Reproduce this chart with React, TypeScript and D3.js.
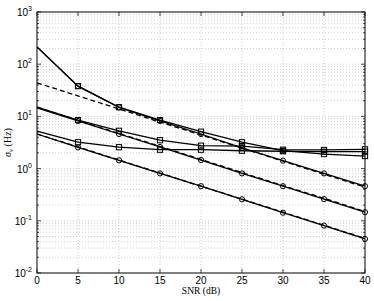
import React, { useEffect, useRef } from "react"
import * as d3 from "d3"

// SNR points (dB)
const snr = [0, 5, 10, 15, 20, 25, 30, 35, 40]

// sigma_nu (Hz)
const circleHigh = [215, 38, 14.9, 8.2, 4.6, 2.5, 1.42, 0.81, 0.46]
const squareHigh = [215, 38, 15, 8.5, 5.1, 3.2, 2.2, 1.9, 1.74]
const crbHigh = [44, 24.7, 13.9, 7.8, 4.4, 2.47, 1.39, 0.78, 0.44]

const circleMid = [14.6, 8.2, 4.6, 2.6, 1.46, 0.81, 0.46, 0.26, 0.146]
const squareMid = [15, 8.5, 5.3, 3.5, 2.75, 2.7, 2.3, 2.28, 2.34]
const crbMid = [15, 8.4, 4.7, 2.67, 1.5, 0.84, 0.47, 0.27, 0.15]

const circleLow = [4.6, 2.55, 1.44, 0.81, 0.46, 0.258, 0.143, 0.081, 0.045]
const squareLow = [5.2, 3.2, 2.57, 2.3, 2.3, 2.2, 2.15, 2.11, 2.11]
const crbLow = [4.6, 2.6, 1.46, 0.82, 0.46, 0.26, 0.146, 0.082, 0.046]

const xTicks = [0, 5, 10, 15, 20, 25, 30, 35, 40]
const yExponents = [-2, -1, 0, 1, 2, 3]

const App = () => {
  const chart = useRef<SVGSVGElement>(null)

  useEffect(() => {
    const svg = d3.select(chart.current)
    svg.selectAll("*").remove()

    const margin = { top: 12, right: 9, bottom: 28, left: 37 }
    const svgWidth = 374
    const svgHeight = 301
    const width = svgWidth - margin.left - margin.right
    const height = svgHeight - margin.top - margin.bottom

    const x = d3.scaleLinear().domain([0, 40]).range([0, width])
    const y = d3.scaleLog().domain([1e-2, 1e3]).range([height, 0])

    const g = svg.append("g").attr("transform", `translate(${margin.left},${margin.top})`)

    // minor log values
    const minor: number[] = []
    yExponents.slice(0, -1).forEach((e) => {
      for (let k = 2; k <= 9; k++) minor.push(k * Math.pow(10, e))
    })
    const major = yExponents.map((e) => Math.pow(10, e))

    const grid = g.append("g").attr("stroke", "#b0b0b0").attr("stroke-width", 0.6).attr("stroke-dasharray", "1,2")
    grid
      .selectAll(".gx")
      .data(xTicks.slice(1, -1))
      .enter()
      .append("line")
      .attr("x1", (d) => x(d))
      .attr("x2", (d) => x(d))
      .attr("y1", 0)
      .attr("y2", height)
    grid
      .selectAll(".gy")
      .data(minor.concat(major.slice(1, -1)))
      .enter()
      .append("line")
      .attr("x1", 0)
      .attr("x2", width)
      .attr("y1", (d) => y(d))
      .attr("y2", (d) => y(d))

    // inward ticks on all sides
    const ticks = g.append("g").attr("stroke", "#000").attr("stroke-width", 0.7)
    xTicks.forEach((t) => {
      ticks.append("line").attr("x1", x(t)).attr("x2", x(t)).attr("y1", height).attr("y2", height - 4)
      ticks.append("line").attr("x1", x(t)).attr("x2", x(t)).attr("y1", 0).attr("y2", 4)
    })
    major.forEach((t) => {
      ticks.append("line").attr("x1", 0).attr("x2", 4).attr("y1", y(t)).attr("y2", y(t))
      ticks.append("line").attr("x1", width).attr("x2", width - 4).attr("y1", y(t)).attr("y2", y(t))
    })
    minor.forEach((t) => {
      ticks.append("line").attr("x1", 0).attr("x2", 2).attr("y1", y(t)).attr("y2", y(t))
      ticks.append("line").attr("x1", width).attr("x2", width - 2).attr("y1", y(t)).attr("y2", y(t))
    })

    const line = d3
      .line<number>()
      .x((d, i) => x(snr[i]))
      .y((d) => y(d))

    const series = [
      { data: crbHigh, dash: "5,3", marker: "none" },
      { data: crbMid, dash: "5,3", marker: "none" },
      { data: crbLow, dash: "5,3", marker: "none" },
      { data: squareHigh, dash: null, marker: "square" },
      { data: squareMid, dash: null, marker: "square" },
      { data: squareLow, dash: null, marker: "square" },
      { data: circleHigh, dash: null, marker: "circle" },
      { data: circleMid, dash: null, marker: "circle" },
      { data: circleLow, dash: null, marker: "circle" },
    ]

    series.forEach((s) => {
      g.append("path")
        .datum(s.data)
        .attr("fill", "none")
        .attr("stroke", "#000")
        .attr("stroke-width", 1.3)
        .attr("stroke-dasharray", s.dash)
        .attr("d", line)

      const pts = s.data.map((v, i) => ({ sx: snr[i], v })).filter((p) => p.sx > 0)
      if (s.marker === "circle") {
        g.selectAll(null)
          .data(pts)
          .enter()
          .append("circle")
          .attr("cx", (d) => x(d.sx))
          .attr("cy", (d) => y(d.v))
          .attr("r", 2.6)
          .attr("fill", "none")
          .attr("stroke", "#000")
          .attr("stroke-width", 1)
      } else if (s.marker === "square") {
        g.selectAll(null)
          .data(pts)
          .enter()
          .append("rect")
          .attr("x", (d) => x(d.sx) - 2.6)
          .attr("y", (d) => y(d.v) - 2.6)
          .attr("width", 5.2)
          .attr("height", 5.2)
          .attr("fill", "none")
          .attr("stroke", "#000")
          .attr("stroke-width", 1)
      }
    })

    // frame
    g.append("rect")
      .attr("width", width)
      .attr("height", height)
      .attr("fill", "none")
      .attr("stroke", "#000")
      .attr("stroke-width", 1)

    // tick labels
    const font = "Liberation Sans, Arial, sans-serif"
    g.selectAll(".xl")
      .data(xTicks)
      .enter()
      .append("text")
      .attr("x", (d) => x(d))
      .attr("y", height + 11)
      .attr("text-anchor", "middle")
      .attr("font-family", font)
      .attr("font-size", 10)
      .text((d) => d)

    const yl = g
      .selectAll(".yl")
      .data(yExponents)
      .enter()
      .append("text")
      .attr("x", -5)
      .attr("y", (d) => y(Math.pow(10, d)) + 4)
      .attr("text-anchor", "end")
      .attr("font-family", font)
      .attr("font-size", 10)
    yl.append("tspan").text("10")
    yl.append("tspan")
      .attr("dy", -5)
      .attr("font-size", 7)
      .text((d) => d)

    // axis titles
    svg
      .append("text")
      .attr("x", margin.left + width / 2)
      .attr("y", svgHeight - 7)
      .attr("text-anchor", "middle")
      .attr("font-family", "Liberation Serif, serif")
      .attr("font-size", 9.5)
      .text("SNR (dB)")

    const yt = svg
      .append("text")
      .attr("transform", `translate(11,${margin.top + height / 2}) rotate(-90)`)
      .attr("text-anchor", "middle")
      .attr("font-family", "Liberation Serif, serif")
      .attr("font-size", 10)
    yt.append("tspan").attr("font-style", "italic").text("σ")
    yt.append("tspan").attr("font-style", "italic").attr("font-size", 7).attr("dy", 2).text("ν")
    yt.append("tspan").attr("dy", -2).text(" (Hz)")
  }, [])

  return (
    <svg
      ref={chart}
      width={374}
      height={301}
      style={{ position: "absolute", left: 0, top: 0, background: "#fff" }}
    />
  )
}

export default App
